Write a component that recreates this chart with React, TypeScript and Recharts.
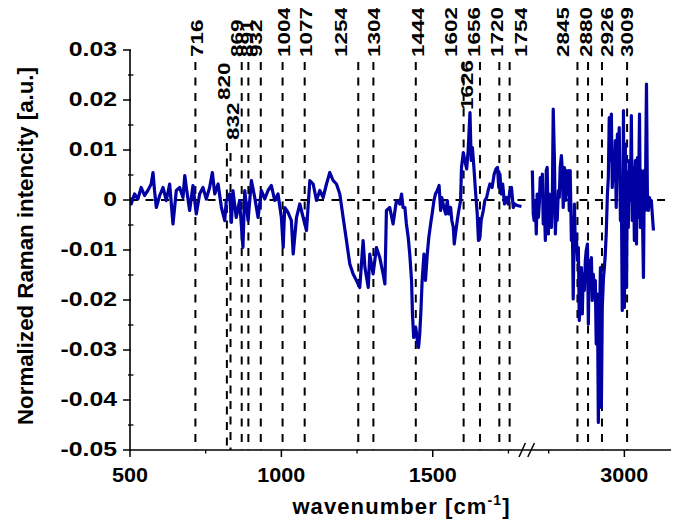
import React from 'react';
import { LineChart, Line, XAxis, YAxis, ReferenceLine } from 'recharts';

// difference spectrum, low-wavenumber part (cm-1 / a.u.)
const LOW_WN = [
  500, 504, 515, 526, 537, 548, 559, 570, 576, 581, 587, 598, 609, 620, 631, 642, 653, 664, 675, 681,
  686, 697, 708, 719, 730, 741, 752, 763, 772, 780, 791, 802, 813, 818, 829, 835, 840, 851, 862, 873,
  879, 890, 901, 912, 923, 934, 945, 956, 967, 978, 989, 1000, 1006, 1011, 1022, 1033, 1039, 1050, 1061, 1072,
  1083, 1094, 1105, 1116, 1127, 1138, 1149, 1160, 1171, 1182, 1193, 1204, 1215, 1226, 1237, 1248, 1259, 1270, 1276, 1287,
  1292, 1303, 1314, 1325, 1336, 1342, 1347, 1358, 1369, 1380,
  1391, 1397, 1402, 1408, 1413, 1419, 1424, 1430, 1433, 1437, 1444, 1449, 1453, 1457, 1461, 1465, 1471, 1476, 1482, 1487,
  1493, 1498, 1504, 1509, 1515, 1521, 1526, 1530, 1537, 1543, 1548, 1553, 1559, 1563, 1568, 1571, 1575, 1581, 1586, 1592,
  1595, 1601, 1606, 1612, 1617, 1623, 1627, 1631, 1636, 1641, 1647, 1651, 1656, 1660, 1667, 1672, 1678, 1683, 1689, 1696,
  1703, 1709, 1714, 1718, 1722, 1726, 1731, 1737, 1744, 1749, 1755, 1760, 1766, 1771, 1779, 1793,
];
const LOW_INT = [
  0.0005, -0.0008, 0.0012, 0.0002, 0.0025, 0.0009, 0.0019, 0.0032, 0.0055, 0.0019,
  -0.0015, 0.0009, 0.0025, -0.0001, 0.0032, -0.0048, 0.0019, 0.0025, 0.0005, 0.0049,
  0.0025, -0.0021, 0.0029, -0.0028, 0.0012, 0.0025, 0.0002, 0.0025, 0.0055, 0.0012,
  0.0032, -0.0015, -0.0041, -0.0001, 0.0012, -0.0045, 0.0019, -0.0035, -0.0001, -0.0095,
  0.0019, -0.0041, 0.0039, 0.0005, -0.0035, 0.0019, 0.0002, 0.0019, 0.0029, -0.0001,
  0.0012, -0.0035, -0.0095, -0.0015, -0.0025, -0.0041, -0.0108, -0.0035, -0.0008, -0.0035,
  -0.0061, 0.0039, 0.0032, -0.0001, 0.0019, 0.0005, 0.0032, 0.0055, 0.0039, 0.0032,
  0.0012, -0.0035, -0.0081, -0.0128, -0.0148, -0.0161, -0.0175, -0.0081, -0.0135, -0.0175,
  -0.0108, -0.0148, -0.0095, -0.0115, -0.0148, -0.0168, -0.0021, -0.0015, -0.0048, -0.0001,
  -0.0008, 0.0012, -0.0015, -0.0015, -0.0048, -0.0075, -0.0108, -0.0161, -0.0228, -0.0275,
  -0.0255, -0.0281, -0.0295, -0.0268, -0.0221, -0.0161, -0.0108, -0.0161, -0.0108, -0.0075,
  -0.0048, -0.0028, -0.0001, 0.0012, 0.0019, 0.0029, -0.0021, 0.0005, -0.0015, -0.0028,
  -0.0001, -0.0028, -0.0015, -0.0041, -0.0055, -0.0088, -0.0068, -0.0041, -0.0021, -0.0001,
  0.0065, 0.0095, 0.0079, 0.0062, 0.0099, 0.0175, 0.0079, 0.0105, 0.0065, 0.0019,
  -0.0028, -0.0081, -0.0075, -0.0041, -0.0021, -0.0001, 0.0005, 0.0019, 0.0032, 0.0025,
  0.0052, 0.0062, 0.0065, 0.0025, 0.0052, 0.0012, 0.0032, -0.0008, 0.0005, -0.0008,
  0.0019, 0.0025, -0.0015, -0.0008, -0.0011, -0.0013,
];

// CH stretching region
const HIGH_WN = [
  2696, 2699, 2702, 2706, 2709, 2712, 2716, 2719, 2722, 2726, 2729, 2732, 2735, 2739, 2742, 2745, 2749, 2752, 2755, 2759,
  2762, 2765, 2769, 2772, 2775, 2778, 2782, 2785, 2788, 2792, 2795, 2798, 2802, 2805, 2808, 2811, 2815, 2818, 2821, 2825,
  2828, 2831, 2835, 2838, 2841, 2845, 2848, 2851, 2854, 2858, 2861, 2864, 2868, 2871, 2874, 2878, 2881, 2884, 2888, 2891,
  2894, 2897, 2901, 2904, 2907, 2911, 2914, 2917, 2921, 2924, 2927, 2931, 2934, 2937, 2940, 2944, 2947, 2950, 2954, 2957,
  2960, 2964, 2967, 2970, 2973, 2977, 2980, 2983, 2987, 2990, 2993, 2997, 3000, 3003, 3007, 3010, 3013, 3016, 3020, 3023,
  3026, 3030, 3033, 3036, 3040, 3043, 3046, 3050, 3053, 3056, 3059, 3063, 3066, 3069, 3073, 3076, 3079, 3083, 3086, 3089,
  3093, 3096,
];
const HIGH_INT = [
  0.0059, -0.0028, -0.0041, -0.0001, -0.0068, 0.0012, -0.0035, -0.0008, 0.0045, 0.0012,
  0.0052, -0.0048, -0.0001, -0.0081, 0.0059, 0.0065, -0.0068, 0.0012, -0.0041, -0.0055,
  -0.0001, 0.0182, 0.0079, -0.0068, -0.0015, -0.0041, 0.0019, 0.0005, 0.0065, 0.0089,
  0.0059, -0.0015, 0.0065, -0.0001, 0.0059, 0.0012, 0.0059, -0.0021, 0.0059, -0.0081,
  -0.0035, -0.0198, -0.0008, -0.0095, -0.0068, -0.0121, -0.0095, -0.0241, -0.0188, -0.0135,
  -0.0228, -0.0148, -0.0181, -0.0121, -0.0101, -0.0088, -0.0248, -0.0121, -0.0148, -0.0115,
  -0.0201, -0.0148, -0.0175, -0.0161, -0.0288, -0.0188, -0.0445, -0.0268, -0.0135, -0.0415,
  -0.0215, -0.0155, -0.0135, -0.0108, -0.0068, 0.0012, 0.0045, 0.0165, 0.0079, 0.0172,
  0.0025, 0.0079, 0.0039, 0.0119, -0.0015, 0.0132, 0.0079, 0.0145, -0.0041, 0.0025,
  -0.0221, 0.0179, -0.0215, 0.0112, -0.0175, 0.0045, -0.0055, 0.0079, -0.0001, 0.0169,
  -0.0041, 0.0065, -0.0081, 0.0079, -0.0088, 0.0085, -0.0035, 0.0172, -0.0055, 0.0059,
  -0.0001, -0.0155, 0.0059, -0.0021, 0.0232, 0.0012, -0.0021, 0.0005, -0.0008, -0.0001,
  -0.0035, -0.0061,
];

// assigned bands
const PEAKS = [716, 820, 832, 869, 891, 932, 1004, 1077, 1254, 1304, 1444, 1602, 1626, 1656, 1720, 1754, 2845, 2880, 2926, 3009];

const X_MAJOR = [500, 1000, 1500, 3000];
const X_MINOR = [750, 1250, 1750, 2750];
const Y_MAJOR = [-0.05, -0.04, -0.03, -0.02, -0.01, 0, 0.01, 0.02, 0.03];
const Y_MINOR = [-0.045, -0.035, -0.025, -0.015, -0.005, 0.005, 0.015, 0.025];

// axis is broken between ~1800 and ~2690 cm-1: the upper part is shifted left
const BREAK_SHIFT = 867;
const toAxis = (wn: number) => (wn > 2000 ? wn - BREAK_SHIFT : wn);
const fromAxis = (x: number) => (x > 1800 ? x + BREAK_SHIFT : x);

const FONT = "'Liberation Sans', Arial, sans-serif";
const BLUE = '#0000a3';

// Arial bold advance widths for the characters used in the numbers
const boldWidth = (s: string, size: number) =>
  s.split('').reduce((w, c) => w + (c === '.' ? 0.278 : c === '-' ? 0.333 : 0.556), 0) * size;

// label nudges, dashed line tops (in a.u.) and label gaps for crowded bands
const PEAK_LAYOUT: Record<number, { dx?: number; top?: number; gap?: number; bare?: boolean }> = {
  716: { dx: 1.5 },
  820: { dx: -3, top: 0.0114, gap: 43 },
  832: { dx: 2.5, top: 0.0094, gap: 13 },
  869: { dx: -4.5 },
  891: { dx: -1.5 },
  932: { dx: -5 },
  1004: { dx: 1.5 },
  1077: { dx: 1 },
  1254: { dx: -17 },
  1304: { dx: 0 },
  1444: { dx: 2 },
  1602: { dx: -12.5 },
  1626: { dx: -4, top: 0.017, gap: 5, bare: true },
  1656: { dx: -6 },
  1720: { dx: -2 },
  1754: { dx: 11 },
  2845: { dx: -14.5 },
  2880: { dx: -2 },
  2926: { dx: 5 },
  3009: { dx: 0 },
};

const lowSeries = LOW_WN.map((wn, i) => ({ x: toAxis(wn), y: LOW_INT[i] }));
const highSeries = HIGH_WN.map((wn, i) => ({ x: toAxis(wn), y: HIGH_INT[i] }));

const YTick = (props: any) => {
  const { x, y, payload } = props;
  const v = payload.value;
  const major = Y_MAJOR.some((m) => Math.abs(m - v) < 1e-9);
  if (!major) {
    return <line x1={x - 2} x2={x + 3.5} y1={y} y2={y} stroke="#000" strokeWidth={1.3} />;
  }
  const label = Math.abs(v) < 1e-9 ? '0' : v.toFixed(2);
  return (
    <g>
      <line x1={x - 7} x2={x + 1} y1={y} y2={y} stroke="#000" strokeWidth={1.5} />
      <text
        x={x - 13}
        y={y}
        dy="0.3em"
        textAnchor="end"
        fontFamily={FONT}
        fontWeight="bold"
        fontSize={20}
        fill="#000"
        textLength={boldWidth(label, 20) * 1.24}
        lengthAdjust="spacingAndGlyphs"
      >
        {label}
      </text>
    </g>
  );
};

const XTick = (props: any) => {
  const { x, y, payload } = props;
  const wn = fromAxis(payload.value);
  if (!X_MAJOR.includes(wn)) {
    return <line x1={x} x2={x} y1={y} y2={y + 3.5} stroke="#000" strokeWidth={1.3} />;
  }
  const label = String(wn);
  return (
    <g>
      <line x1={x} x2={x} y1={y} y2={y + 7} stroke="#000" strokeWidth={1.5} />
      <text
        x={x}
        y={y + 31.5}
        textAnchor="middle"
        fontFamily={FONT}
        fontWeight="bold"
        fontSize={20}
        fill="#000"
        textLength={boldWidth(label, 20) * 1.08}
        lengthAdjust="spacingAndGlyphs"
      >
        {label}
      </text>
    </g>
  );
};

const PeakLabel = ({ viewBox, text, dx = 0, gap = 5 }: any) => {
  const cx = viewBox.x + dx;
  const by = viewBox.y - gap;
  return (
    <text
      transform={`translate(${cx},${by}) rotate(-90)`}
      dy="0.36em"
      fontFamily={FONT}
      fontWeight="bold"
      fontSize={17}
      fill="#000"
      textLength={boldWidth(text, 17) * 1.32}
      lengthAdjust="spacingAndGlyphs"
    >
      {text}
    </text>
  );
};

const YTitle = ({ viewBox }: any) => (
  <text
    transform={`translate(${viewBox.x + 17},${viewBox.y + viewBox.height / 2 - 4}) rotate(-90)`}
    dy="0.36em"
    textAnchor="middle"
    fontFamily={FONT}
    fontWeight="bold"
    fontSize={22}
    fill="#000"
    textLength={358}
    lengthAdjust="spacingAndGlyphs"
  >
    Normalized Raman intencity [a.u.]
  </text>
);

const XTitle = ({ viewBox }: any) => (
  <text
    x={viewBox.x + viewBox.width / 2 + 1}
    y={viewBox.y + 64}
    textAnchor="middle"
    fontFamily={FONT}
    fontWeight="bold"
    fontSize={22}
    letterSpacing={1.1}
    fill="#000"
  >
    wavenumber [cm
    <tspan fontSize={14} dy={-9}>-1</tspan>
    <tspan dy={9}>]</tspan>
  </text>
);

export default function App() {
  return (
    <LineChart width={663} height={513} margin={{ top: 42, right: 0, bottom: 0, left: 0 }}>
      <XAxis
        type="number"
        dataKey="x"
        domain={[500, 2287]}
        allowDataOverflow
        ticks={[...X_MAJOR, ...X_MINOR].map(toAxis)}
        interval={0}
        tick={<XTick />}
        tickLine={false}
        tickSize={0}
        tickMargin={0}
        height={71}
        axisLine={{ stroke: '#000', strokeWidth: 1.6 }}
        label={<XTitle />}
      />
      <YAxis
        type="number"
        dataKey="y"
        domain={[-0.05, 0.03]}
        allowDataOverflow
        ticks={[...Y_MAJOR, ...Y_MINOR]}
        interval={0}
        tick={<YTick />}
        tickLine={false}
        tickSize={0}
        tickMargin={0}
        width={122}
        axisLine={{ stroke: '#000', strokeWidth: 1.6 }}
        label={<YTitle />}
      />

      <ReferenceLine y={0} stroke="#000" strokeWidth={2} strokeDasharray="8 7.5" />

      {PEAKS.map((p) => {
        const lay = PEAK_LAYOUT[p] ?? {};
        const x = toAxis(p);
        return (
          <ReferenceLine
            key={p}
            segment={[{ x, y: lay.top ?? 0.0276 }, { x, y: -0.05 }]}
            stroke={lay.bare ? 'none' : '#000'}
            strokeWidth={2}
            strokeDasharray="8 7.5"
            ifOverflow="visible"
            label={(props: any) => <PeakLabel {...props} text={String(p)} dx={lay.dx} gap={lay.gap} />}
          />
        );
      })}

      {/* break marks on the wavenumber axis */}
      <ReferenceLine
        segment={[{ x: 1785, y: -0.0514 }, { x: 1806, y: -0.0486 }]}
        stroke="#000"
        strokeWidth={1.5}
        ifOverflow="visible"
      />
      <ReferenceLine
        segment={[{ x: 1814, y: -0.0514 }, { x: 1836, y: -0.0486 }]}
        stroke="#000"
        strokeWidth={1.5}
        ifOverflow="visible"
      />

      <Line
        data={lowSeries}
        dataKey="y"
        type="linear"
        stroke={BLUE}
        strokeWidth={3.2}
        strokeLinejoin="round"
        dot={false}
        activeDot={false}
        isAnimationActive={false}
      />
      <Line
        data={highSeries}
        dataKey="y"
        type="linear"
        stroke={BLUE}
        strokeWidth={3.2}
        strokeLinejoin="round"
        dot={false}
        activeDot={false}
        isAnimationActive={false}
      />
    </LineChart>
  );
}
